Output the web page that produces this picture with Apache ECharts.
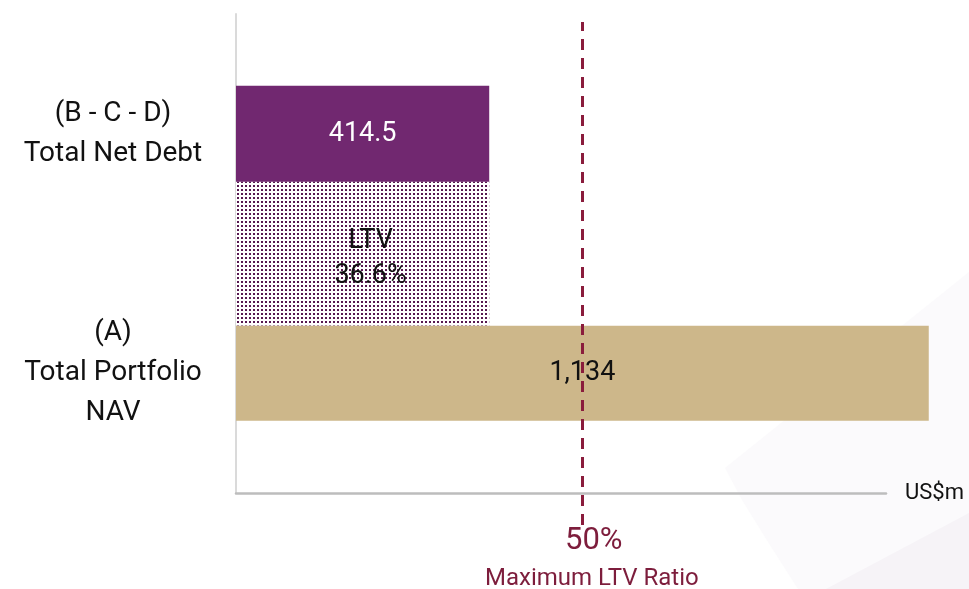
<!DOCTYPE html>
<html>
<head>
<meta charset="utf-8">
<style>
  html, body { margin: 0; padding: 0; background: #fff; }
  #chart { width: 969px; height: 589px; }
</style>
<script src="https://cdn.jsdelivr.net/npm/echarts@6/dist/echarts.min.js"></script>
</head>
<body>
<div id="chart"></div>
<script>
// category slots bottom -> top (first and last are empty padding slots)
const slots = ['padBottom', 'nav', 'ltv', 'debt', 'padTop'];
const slotLabels = ['', '(A)\nTotal Portfolio\nNAV', '', '(B - C - D)\nTotal Net Debt', ''];

const navValue = 1134;
const netDebtValue = 414.5;
const ltvRatio = '36.6%';
const maxLtv = 0.5;

const navData = [null, navValue, null, null, null];
const ltvData = [null, null, netDebtValue, null, null];
const debtData = [null, null, null, netDebtValue, null];

const FONT = 'Roboto, "Noto Sans", sans-serif';

// dotted fill for the LTV block
const dots = document.createElement('canvas');
dots.width = 4;
dots.height = 4;
const dctx = dots.getContext('2d');
dctx.fillStyle = '#ffffff';
dctx.fillRect(0, 0, 4, 4);
dctx.fillStyle = '#561850';
dctx.fillRect(1, 1, 2, 2);

const chart = echarts.init(document.getElementById('chart'));

const catAxis = (show) => ({
  type: 'category',
  gridIndex: 0,
  data: slots,
  boundaryGap: false,
  axisLine: { show: show, lineStyle: { color: '#dadada', width: 2 } },
  axisTick: { show: false },
  axisLabel: {
    show: show,
    margin: 123,
    align: 'center',
    fontFamily: FONT,
    fontSize: 28,
    lineHeight: 40,
    color: '#111',
    formatter: (v, i) => slotLabels[i]
  },
  splitLine: { show: false }
});

const option = {
  animation: false,
  backgroundColor: '#fff',
  grid: [
    { left: 236, right: 83, top: 14, bottom: 96 },
    { left: 236, right: 83, top: 22, bottom: 64 }
  ],
  xAxis: [
    {
      type: 'value',
      gridIndex: 0,
      min: 0,
      max: 1064,
      name: 'US$m',
      nameLocation: 'end',
      nameGap: 19,
      nameTextStyle: { fontFamily: FONT, fontSize: 22, color: '#111', verticalAlign: 'middle' },
      axisLine: { show: true, lineStyle: { color: '#bdbdbd', width: 2.5 } },
      axisTick: { show: false },
      axisLabel: { show: false },
      splitLine: { show: false }
    },
    {
      type: 'value',
      gridIndex: 1,
      min: 0,
      max: 1064,
      show: false
    }
  ],
  yAxis: [
    catAxis(true),
    catAxis(false),
    catAxis(false),
    { type: 'value', gridIndex: 1, show: false }
  ],
  graphic: [
    {
      type: 'polygon',
      z: -10,
      silent: true,
      shape: { points: [[969, 272], [725, 468], [742, 500], [768, 542], [798, 589], [969, 589]] },
      style: { fill: '#fbfafc' }
    },
    {
      type: 'polygon',
      z: -9,
      silent: true,
      shape: { points: [[969, 513], [826, 589], [969, 589]] },
      style: { fill: '#f6f3f7' }
    },
    {
      type: 'text',
      left: 565,
      top: 526,
      style: { text: '50%', fontFamily: FONT, fontSize: 31, fill: '#7d1d3c' }
    },
    {
      type: 'text',
      left: 485,
      top: 567,
      style: { text: 'Maximum LTV Ratio', fontFamily: FONT, fontSize: 24, fill: '#7d1d3c' }
    }
  ],
  series: [
    {
      name: 'LTV',
      type: 'bar',
      xAxisIndex: 0,
      yAxisIndex: 1,
      barWidth: 144,
      clip: false,
      z: 1,
      data: ltvData,
      itemStyle: { color: { image: dots, repeat: 'repeat' } },
      label: {
        show: true,
        position: 'inside',
        offset: [8, 5],
        formatter: 'LTV\n' + ltvRatio,
        fontFamily: FONT,
        fontSize: 27,
        lineHeight: 35,
        color: '#111'
      }
    },
    {
      name: 'Total Portfolio NAV',
      type: 'bar',
      xAxisIndex: 0,
      yAxisIndex: 0,
      barWidth: 95,
      clip: false,
      z: 2,
      data: navData,
      itemStyle: { color: '#cdb78a' },
      label: {
        show: true,
        position: 'inside',
        formatter: (p) => p.value.toLocaleString('en-US'),
        fontFamily: FONT,
        fontSize: 27,
        color: '#111'
      }
    },
    {
      name: 'Total Net Debt',
      type: 'bar',
      xAxisIndex: 0,
      yAxisIndex: 2,
      barWidth: 96,
      clip: false,
      z: 2,
      data: debtData,
      itemStyle: { color: '#712870' },
      label: {
        show: true,
        position: 'inside',
        formatter: (p) => String(p.value),
        fontFamily: FONT,
        fontSize: 27,
        color: '#fff'
      }
    },
    {
      name: 'Max LTV',
      type: 'scatter',
      xAxisIndex: 1,
      yAxisIndex: 3,
      data: [],
      markLine: {
        silent: true,
        symbol: 'none',
        label: { show: false },
        lineStyle: { color: '#8a1c3c', width: 3, type: [11, 8] },
        data: [{ xAxis: navValue * maxLtv }]
      }
    }
  ]
};

chart.setOption(option);
</script>
</body>
</html>
